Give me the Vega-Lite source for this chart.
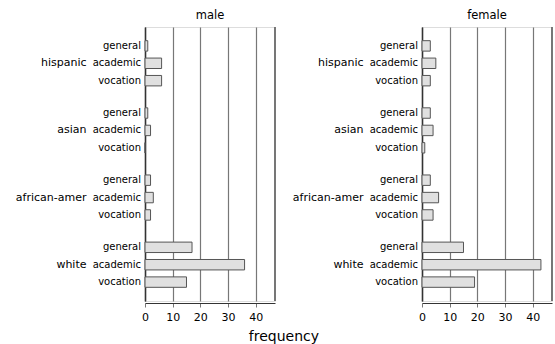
{
  "$schema": "https://vega.github.io/schema/vega-lite/v6.json",
  "background": "white",
  "padding": {"left": 14, "top": 9, "right": 4, "bottom": 4},
  "data": {
    "values": [
      {"gender": "male", "race": "hispanic", "prog": "general", "count": 1},
      {"gender": "male", "race": "hispanic", "prog": "academic", "count": 6},
      {"gender": "male", "race": "hispanic", "prog": "vocation", "count": 6},
      {"gender": "male", "race": "asian", "prog": "general", "count": 1},
      {"gender": "male", "race": "asian", "prog": "academic", "count": 2},
      {"gender": "male", "race": "asian", "prog": "vocation", "count": 0},
      {"gender": "male", "race": "african-amer", "prog": "general", "count": 2},
      {"gender": "male", "race": "african-amer", "prog": "academic", "count": 3},
      {"gender": "male", "race": "african-amer", "prog": "vocation", "count": 2},
      {"gender": "male", "race": "white", "prog": "general", "count": 17},
      {"gender": "male", "race": "white", "prog": "academic", "count": 36},
      {"gender": "male", "race": "white", "prog": "vocation", "count": 15},
      {"gender": "female", "race": "hispanic", "prog": "general", "count": 3},
      {"gender": "female", "race": "hispanic", "prog": "academic", "count": 5},
      {"gender": "female", "race": "hispanic", "prog": "vocation", "count": 3},
      {"gender": "female", "race": "asian", "prog": "general", "count": 3},
      {"gender": "female", "race": "asian", "prog": "academic", "count": 4},
      {"gender": "female", "race": "asian", "prog": "vocation", "count": 1},
      {"gender": "female", "race": "african-amer", "prog": "general", "count": 3},
      {"gender": "female", "race": "african-amer", "prog": "academic", "count": 6},
      {"gender": "female", "race": "african-amer", "prog": "vocation", "count": 4},
      {"gender": "female", "race": "white", "prog": "general", "count": 15},
      {"gender": "female", "race": "white", "prog": "academic", "count": 43},
      {"gender": "female", "race": "white", "prog": "vocation", "count": 19}
    ]
  },
  "title": {
    "text": "frequency",
    "orient": "bottom",
    "anchor": "middle",
    "font": "DejaVu Sans",
    "fontSize": 14,
    "fontWeight": "normal",
    "color": "black",
    "offset": 8
  },
  "facet": {
    "column": {
      "field": "gender",
      "type": "nominal",
      "sort": ["male", "female"],
      "header": {
        "title": null,
        "labelFont": "DejaVu Sans",
        "labelFontSize": 11.5,
        "labelColor": "black",
        "labelPadding": 4
      }
    }
  },
  "spacing": 14,
  "resolve": {"axis": {"y": "independent"}},
  "spec": {
    "width": 130,
    "height": 274,
    "layer": [
      {
        "mark": {"type": "bar", "fill": "#e0e0e0", "stroke": "#555555", "strokeWidth": 1},
        "encoding": {
          "y": {
            "field": "race",
            "type": "nominal",
            "sort": ["hispanic", "asian", "african-amer", "white"],
            "scale": {"paddingInner": 0.223, "paddingOuter": 0.152},
            "axis": {
              "title": null,
              "ticks": false,
              "grid": false,
              "domainColor": "#333333",
              "domainWidth": 1.5,
              "labelFont": "DejaVu Sans",
              "labelFontSize": 11,
              "labelColor": "black",
              "labelPadding": 59
            }
          },
          "yOffset": {
            "field": "prog",
            "type": "nominal",
            "sort": ["general", "academic", "vocation"],
            "scale": {"paddingInner": 0.4, "paddingOuter": 0.2}
          },
          "x": {
            "field": "count",
            "type": "quantitative",
            "scale": {"domain": [0, 47], "nice": false},
            "axis": {
              "title": null,
              "values": [0, 10, 20, 30, 40],
              "tickCount": 5,
              "labelOverlap": false,
              "labelFlush": false,
              "grid": true,
              "gridColor": "#777777",
              "gridWidth": 1.2,
              "gridOpacity": 1,
              "domainColor": "#333333",
              "tickColor": "#777777",
              "tickSize": 4,
              "labelFont": "DejaVu Sans",
              "labelFontSize": 11,
              "labelColor": "black",
              "labelPadding": 4
            }
          }
        }
      },
      {
        "mark": {"type": "text", "align": "right", "baseline": "middle", "dx": -4, "font": "DejaVu Sans", "fontSize": 10, "color": "black"},
        "encoding": {
          "y": {"field": "race", "type": "nominal", "sort": ["hispanic", "asian", "african-amer", "white"]},
          "yOffset": {"field": "prog", "type": "nominal", "sort": ["general", "academic", "vocation"]},
          "x": {"datum": 0},
          "text": {"field": "prog"}
        }
      },
      {
        "mark": {"type": "rule", "color": "#777777", "strokeWidth": 1.2},
        "encoding": {"x": {"datum": 47}}
      }
    ]
  },
  "config": {
    "view": {"stroke": "#dddddd"}
  }
}
